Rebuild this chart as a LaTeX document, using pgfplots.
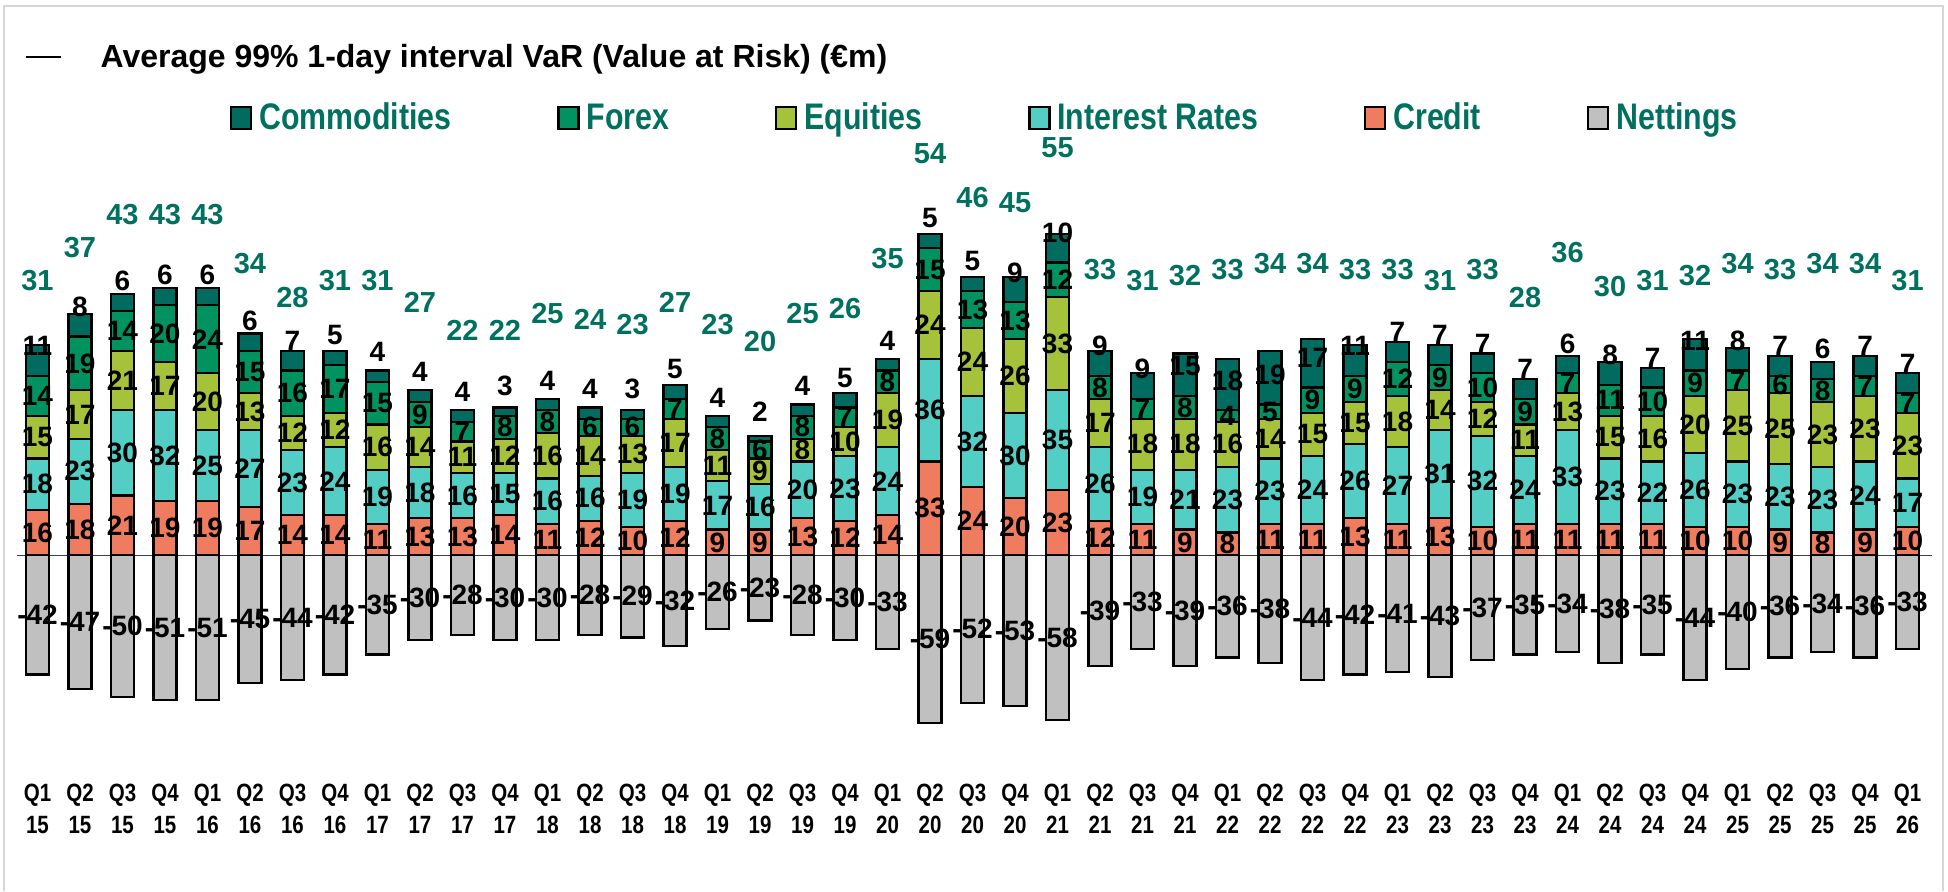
\documentclass[border=0pt]{standalone}
\usepackage{pgfplots}
\pgfplotsset{compat=1.18}
\usepackage{pgfplotstable}
\usepackage{fontspec}
\setmainfont{Liberation Sans}
\newfontfamily\narrowfont{Liberation Sans}[FakeStretch=0.82]
\definecolor{cCo}{HTML}{006B5E}
\definecolor{cFx}{HTML}{009260}
\definecolor{cEq}{HTML}{A6C13A}
\definecolor{cIr}{HTML}{52CEC5}
\definecolor{cCr}{HTML}{F07C5F}
\definecolor{cNt}{HTML}{C0C0C0}
\definecolor{cTeal}{HTML}{00705F}
\definecolor{cFrame}{HTML}{D6D6D6}

\pgfplotstableread{
i cr ir eq fx co nt tot
0 16 18 15 14 11 -42 31
1 18 23 17 19 8 -47 37
2 21 30 21 14 6 -50 43
3 19 32 17 20 6 -51 43
4 19 25 20 24 6 -51 43
5 17 27 13 15 6 -45 34
6 14 23 12 16 7 -44 28
7 14 24 12 17 5 -42 31
8 11 19 16 15 4 -35 31
9 13 18 14 9 4 -30 27
10 13 16 11 7 4 -28 22
11 14 15 12 8 3 -30 22
12 11 16 16 8 4 -30 25
13 12 16 14 6 4 -28 24
14 10 19 13 6 3 -29 23
15 12 19 17 7 5 -32 27
16 9 17 11 8 4 -26 23
17 9 16 9 6 2 -23 20
18 13 20 8 8 4 -28 25
19 12 23 10 7 5 -30 26
20 14 24 19 8 4 -33 35
21 33 36 24 15 5 -59 54
22 24 32 24 13 5 -52 46
23 20 30 26 13 9 -53 45
24 23 35 33 12 10 -58 55
25 12 26 17 8 9 -39 33
26 11 19 18 7 9 -33 31
27 9 21 18 8 15 -39 32
28 8 23 16 4 18 -36 33
29 11 23 14 5 19 -38 34
30 11 24 15 9 17 -44 34
31 13 26 15 9 11 -42 33
32 11 27 18 12 7 -41 33
33 13 31 14 9 7 -43 31
34 10 32 12 10 7 -37 33
35 11 24 11 9 7 -35 28
36 11 33 13 7 6 -34 36
37 11 23 15 11 8 -38 30
38 11 22 16 10 7 -35 31
39 10 26 20 9 11 -44 32
40 10 23 25 7 8 -40 34
41 9 23 25 6 7 -36 33
42 8 23 23 8 6 -34 34
43 9 24 23 7 7 -36 34
44 10 17 23 7 7 -33 31
}\data

\pgfplotsset{base/.style={scale only axis, width=957.5pt, height=312.5pt,
  at={(8.5pt,-377pt)}, anchor=south west, xmin=-0.482, xmax=44.576, clip=false}}

\begin{document}
\begin{tikzpicture}
\useasboundingbox (0pt,0pt) rectangle (974pt,-445.5pt);
\draw[cFrame, line width=1pt] (2pt,-445.5pt) -- (2pt,-3pt) -- (971.5pt,-3pt) -- (971.5pt,-445.5pt);

% nettings (negative bars)
\begin{axis}[base, hide axis, ymin=-70, ymax=150, ybar, bar width=11.5pt]
\addplot[ybar, bar shift=0pt, fill=cNt, draw=black, line width=1.1pt] table[x=i, y=nt]{\data};
\end{axis}

% positive stacked bars
\begin{axis}[base, ymin=-70, ymax=150,
  ybar stacked, bar width=11.5pt,
  axis line style={draw=none}, ytick=\empty,
  xtick={0,...,44}, major tick length=0pt,
  xticklabels={{Q1\\15},{Q2\\15},{Q3\\15},{Q4\\15},{Q1\\16},{Q2\\16},{Q3\\16},{Q4\\16},{Q1\\17},{Q2\\17},{Q3\\17},{Q4\\17},{Q1\\18},{Q2\\18},{Q3\\18},{Q4\\18},{Q1\\19},{Q2\\19},{Q3\\19},{Q4\\19},{Q1\\20},{Q2\\20},{Q3\\20},{Q4\\20},{Q1\\21},{Q2\\21},{Q3\\21},{Q4\\21},{Q1\\22},{Q2\\22},{Q3\\22},{Q4\\22},{Q1\\23},{Q2\\23},{Q3\\23},{Q4\\23},{Q1\\24},{Q2\\24},{Q3\\24},{Q4\\24},{Q1\\25},{Q2\\25},{Q3\\25},{Q4\\25},{Q1\\26}},
  xticklabel style={anchor=north, inner sep=0pt, yshift=-15pt, align=center,
    font=\narrowfont\bfseries\fontsize{12.5pt}{16pt}\selectfont},
  reverse legend,
  legend style={at={(0.1110,1.0176)}, anchor=west, draw=none, fill=none,
    inner sep=0pt, nodes={inner sep=0pt}, legend columns=6,
    font=\narrowfont\bfseries\fontsize{18.5pt}{22pt}\selectfont, text=cTeal,
    /tikz/every odd column/.append style={column sep=3.5pt},
    /tikz/every even column/.append style={column sep=53pt}},
  every axis plot post/.append style={draw=black, line width=1.1pt,
    legend image code/.code={\draw[##1, line width=1.1pt] (0pt,-5.5pt) rectangle (10pt,5.5pt);}},
]
\addlegendimage{fill=cNt, draw=black}
\addlegendentry{Nettings}
\addplot[fill=cCr] table[x=i, y=cr]{\data}; \addlegendentry{Credit}
\addplot[fill=cIr] table[x=i, y=ir]{\data}; \addlegendentry{Interest Rates}
\addplot[fill=cEq] table[x=i, y=eq]{\data}; \addlegendentry{Equities}
\addplot[fill=cFx] table[x=i, y=fx]{\data}; \addlegendentry{Forex}
\addplot[fill=cCo] table[x=i, y=co]{\data}; \addlegendentry{Commodities}
\draw[black!75, line width=0.6pt] (axis cs:-0.482,0) -- (axis cs:44.576,0);
\end{axis}

% segment labels
\begin{axis}[base, hide axis, ymin=-70, ymax=150,
  point meta=explicit symbolic, nodes near coords={\pgfplotspointmeta},
  every node near coord/.append style={anchor=center, inner sep=0pt, text=black,
    font=\bfseries\fontsize{14pt}{16pt}\selectfont}]
\addplot[draw=none, mark=none] table[x=i, y expr=\thisrow{nt}/2, meta=nt]{\data};
\addplot[draw=none, mark=none] table[x=i, y expr=\thisrow{cr}/2, meta=cr]{\data};
\addplot[draw=none, mark=none] table[x=i, y expr=\thisrow{cr}+\thisrow{ir}/2, meta=ir]{\data};
\addplot[draw=none, mark=none] table[x=i, y expr=\thisrow{cr}+\thisrow{ir}+\thisrow{eq}/2, meta=eq]{\data};
\addplot[draw=none, mark=none] table[x=i, y expr=\thisrow{cr}+\thisrow{ir}+\thisrow{eq}+\thisrow{fx}/2, meta=fx]{\data};
\addplot[draw=none, mark=none] table[x=i, y expr=\thisrow{cr}+\thisrow{ir}+\thisrow{eq}+\thisrow{fx}+10.5, meta=co]{\data};
\end{axis}

% totals
\begin{axis}[base, hide axis, ymin=-54.61, ymax=58.41,
  point meta=explicit symbolic, nodes near coords={\pgfplotspointmeta},
  every node near coord/.append style={anchor=center, inner sep=0pt, text=cTeal,
    font=\bfseries\fontsize{14.5pt}{17pt}\selectfont},
  legend style={at={(0.00418,1.1152)}, anchor=west, draw=none, fill=none,
    inner sep=0pt, nodes={inner sep=0pt},
    font=\bfseries\fontsize{16pt}{19pt}\selectfont, text=black,
    /tikz/every odd column/.append style={column sep=19.5pt}},
  legend image code/.code={\draw[black, line width=0.6pt] (0pt,0pt) -- (17.5pt,0pt);}]
\addplot[draw=none, mark=none] table[x=i, y=tot, meta=tot]{\data};
\addlegendentry{Average 99\% 1-day interval VaR (Value at Risk) (€m)}
\end{axis}
\end{tikzpicture}
\end{document}
